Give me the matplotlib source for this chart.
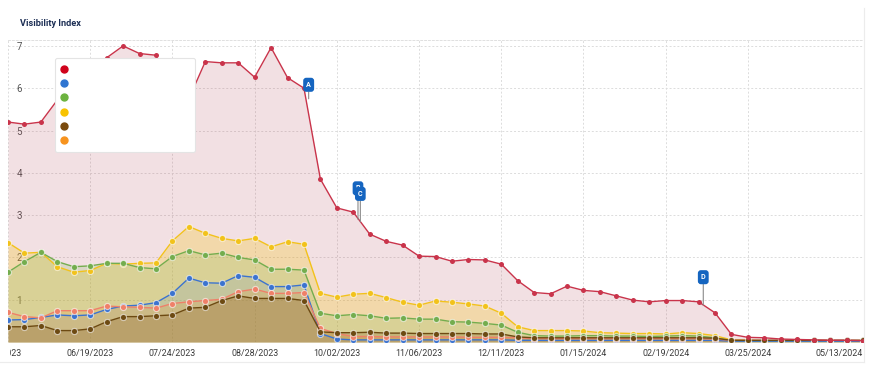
import numpy as np
import pandas as pd
import matplotlib
matplotlib.use("Agg")
import matplotlib.pyplot as plt
from matplotlib.lines import Line2D
from matplotlib.transforms import Bbox, TransformedBbox

# weekly visibility index values, 05/15/2023 .. 05/13/2024
dates = pd.date_range("2023-05-15", periods=53, freq="7D")

red = [5.2, 5.15, 5.2, 5.72, 6.0, 6.3, 6.72, 7.0, 6.82, 6.78,
       5.8, 5.75, 6.63, 6.6, 6.6, 6.26, 6.96, 6.25, 6.0, 3.85,
       3.17, 3.07, 2.55, 2.38, 2.29, 2.03, 2.02, 1.91, 1.95, 1.94,
       1.84, 1.45, 1.17, 1.14, 1.32, 1.22, 1.19, 1.09, 0.99, 0.95,
       0.98, 0.98, 0.95, 0.69, 0.18, 0.11, 0.10, 0.07, 0.06, 0.05,
       0.04, 0.04, 0.03]
yellow = [2.35, 2.10, 2.12, 1.78, 1.65, 1.69, 1.86, 1.84, 1.86, 1.87,
          2.39, 2.73, 2.57, 2.45, 2.39, 2.45, 2.25, 2.37, 2.31, 1.15,
          1.06, 1.13, 1.15, 1.05, 0.94, 0.87, 0.97, 0.94, 0.90, 0.85,
          0.68, 0.36, 0.27, 0.27, 0.27, 0.26, 0.22, 0.21, 0.20, 0.20,
          0.19, 0.22, 0.20, 0.15, 0.05, 0.04, 0.03, 0.03, 0.03, 0.03,
          0.03, 0.03, 0.03]
green = [1.65, 1.90, 2.12, 1.90, 1.78, 1.80, 1.86, 1.86, 1.76, 1.73,
         2.02, 2.16, 2.06, 2.10, 2.00, 1.94, 1.72, 1.72, 1.70, 0.68,
         0.62, 0.65, 0.62, 0.56, 0.57, 0.54, 0.54, 0.48, 0.47, 0.44,
         0.40, 0.23, 0.15, 0.14, 0.14, 0.15, 0.15, 0.14, 0.14, 0.13,
         0.14, 0.15, 0.14, 0.10, 0.03, 0.02, 0.02, 0.02, 0.02, 0.02,
         0.02, 0.02, 0.02]
blue = [0.52, 0.53, 0.58, 0.64, 0.62, 0.64, 0.77, 0.85, 0.87, 0.93,
        1.15, 1.51, 1.40, 1.39, 1.57, 1.53, 1.31, 1.31, 1.35, 0.20,
        0.07, 0.05, 0.05, 0.05, 0.05, 0.05, 0.05, 0.05, 0.05, 0.05,
        0.05, 0.04, 0.04, 0.04, 0.04, 0.04, 0.04, 0.04, 0.04, 0.04,
        0.04, 0.04, 0.04, 0.04, 0.02, 0.02, 0.02, 0.02, 0.02, 0.02,
        0.02, 0.02, 0.02]
orange = [0.70, 0.60, 0.57, 0.74, 0.74, 0.74, 0.85, 0.83, 0.82, 0.80,
          0.91, 0.95, 0.98, 1.01, 1.19, 1.25, 1.15, 1.15, 1.17, 0.32,
          0.20, 0.13, 0.13, 0.12, 0.12, 0.12, 0.12, 0.12, 0.11, 0.11,
          0.11, 0.10, 0.08, 0.08, 0.08, 0.08, 0.08, 0.08, 0.08, 0.08,
          0.08, 0.08, 0.08, 0.07, 0.04, 0.04, 0.04, 0.04, 0.04, 0.04,
          0.04, 0.04, 0.04]
brown = [0.36, 0.36, 0.39, 0.27, 0.27, 0.31, 0.48, 0.60, 0.60, 0.62,
         0.64, 0.80, 0.82, 0.98, 1.09, 1.03, 1.03, 1.03, 0.98, 0.24,
         0.22, 0.22, 0.23, 0.21, 0.21, 0.20, 0.20, 0.20, 0.20, 0.19,
         0.19, 0.12, 0.10, 0.10, 0.10, 0.10, 0.10, 0.10, 0.10, 0.10,
         0.10, 0.10, 0.10, 0.09, 0.04, 0.04, 0.04, 0.04, 0.04, 0.04,
         0.04, 0.04, 0.04]

tick_dates = ["2023-05-15", "2023-06-19", "2023-07-24", "2023-08-28",
              "2023-10-02", "2023-11-06", "2023-12-11", "2024-01-15",
              "2024-02-19", "2024-03-25", "2024-05-13"]

# event flags: letter, date, value where the pole ends, pole length (px)
events = [("A", "2023-09-20", 5.75, 10),
          ("B", "2023-10-11", 2.90, 27),
          ("C", "2023-10-12", 2.84, 24),
          ("D", "2024-03-06", 0.87, 24)]

# name: values, line colour, legend colour, fill colour, fill alpha, marker size
series = {
    "red": (red, "#c9344b", "#d0021b", "#b5485a", 0.17, 3.6),
    "yellow": (yellow, "#f2c21b", "#f8c300", "#f5c400", 0.25, 4.4),
    "green": (green, "#74ad4e", "#6cb33f", "#6cb33f", 0.18, 4.4),
    "blue": (blue, "#3b73cf", "#2f75d1", "#2f75d1", 0.12, 4.4),
    "orange": (orange, "#ef8068", "#f7931e", "#f58a1f", 0.18, 4.4),
    "brown": (brown, "#6d4a12", "#7a4a0c", "#7a4a0c", 0.22, 4.4),
}
draw_order = ["red", "yellow", "green", "blue", "orange", "brown"]
legend_order = ["red", "blue", "green", "yellow", "brown", "orange"]

plt.rcParams["font.family"] = ["Roboto", "DejaVu Sans"]

fig = plt.figure(figsize=(8.72, 3.72), dpi=100)
W, H = 872, 372
ax = fig.add_axes([8 / W, 30 / H, (863 - 8) / W, (342 - 40) / H])

for name in draw_order:
    vals, lc, _, fc, a, ms = series[name]
    ax.fill_between(dates, 0, vals, color=fc, alpha=a, lw=0, zorder=1)

for name in draw_order:
    vals, lc, _, fc, a, ms = series[name]
    if name == "red":
        ax.plot(dates, vals, color=lc, lw=1.0, marker="o", ms=ms,
                mec=lc, mew=0, zorder=3)
    else:
        ax.plot(dates, vals, color=lc, lw=1.0, marker="o", ms=ms,
                mec=(1, 1, 1, 0.6), mew=0.8, zorder=2)

ax.set_xlim(dates[0], dates[-1])
ax.set_ylim(0, 7.14)

ticks = pd.to_datetime(tick_dates)
labels = [t.strftime("%m/%d/%Y") for t in ticks]
ax.set_xticks(ticks)
ax.set_xticklabels([""] + labels[1:])
ax.tick_params(axis="x", length=0, pad=5, labelsize=6.4, labelcolor="#3a3a3a")
xl = ax.get_xticklabels()
xl[-1].set_horizontalalignment("right")
# first label runs past the card's left edge and is cut there, as in the source
first = ax.annotate(labels[0], xy=(ticks[0], 0), xycoords=("data", "axes fraction"),
                    xytext=(10, -5), textcoords="offset points", ha="right",
                    va="top", fontsize=6.4, color="#3a3a3a", annotation_clip=False)
first.set_clip_on(True)
first.set_clip_box(TransformedBbox(Bbox([[10 / W, 0], [1, 1]]), fig.transFigure))

ax.set_yticks(range(1, 8))
ax.tick_params(axis="y", length=0, pad=-6, labelsize=7, labelcolor="#555555")
for lbl in ax.get_yticklabels():
    lbl.set_horizontalalignment("left")

ax.grid(True, color="#dcdcdc", lw=0.7, ls=(0, (2, 2)))
ax.set_axisbelow(True)
for s in ["left", "right", "bottom"]:
    ax.spines[s].set_visible(False)
ax.spines["top"].set_color("#e0e0e0")
ax.spines["top"].set_linestyle((0, (2, 2)))
ax.spines["top"].set_linewidth(0.7)

# event flags
for letter, d, yv, length in events:
    ax.annotate(letter, xy=(pd.Timestamp(d), yv), xytext=(0, length * 0.72),
                textcoords="offset points", ha="center", va="bottom",
                color="white", fontsize=5.2, fontweight="bold",
                bbox=dict(boxstyle="round,pad=0.42", fc="#1565c0", ec="none"),
                arrowprops=dict(arrowstyle="-", color="#8a8a8a", lw=0.8,
                                shrinkA=0, shrinkB=0),
                zorder=5)

# legend (labels are blank in the source)
handles = [Line2D([], [], ls="none", marker="o", ms=5,
                  color=series[n][2], mec=series[n][2]) for n in legend_order]
leg = ax.legend(handles, [" "] * 6, loc="upper left",
                bbox_to_anchor=(0.055, 0.636, 0.164, 0.304), mode="expand",
                fontsize=7, labelspacing=0.45, handlelength=0.6,
                borderpad=0.6, handletextpad=0.4, fancybox=True,
                framealpha=1, edgecolor="#e4e4e4", borderaxespad=0)
leg.get_frame().set_linewidth(0.8)
leg.set_zorder(6)

fig.text(20 / W, 1 - 24 / H, "Visibility Index", fontsize=6.6,
         fontweight="bold", color="#1d2f55", va="center", ha="left")

# card borders
fig.add_artist(Line2D([0, 864 / W], [1 - 362 / H] * 2, color="#ececec", lw=0.8))
fig.add_artist(Line2D([864 / W] * 2, [1 - 362 / H, 1 - 8 / H], color="#ececec", lw=0.8))

fig.savefig("out.png", dpi=100)
